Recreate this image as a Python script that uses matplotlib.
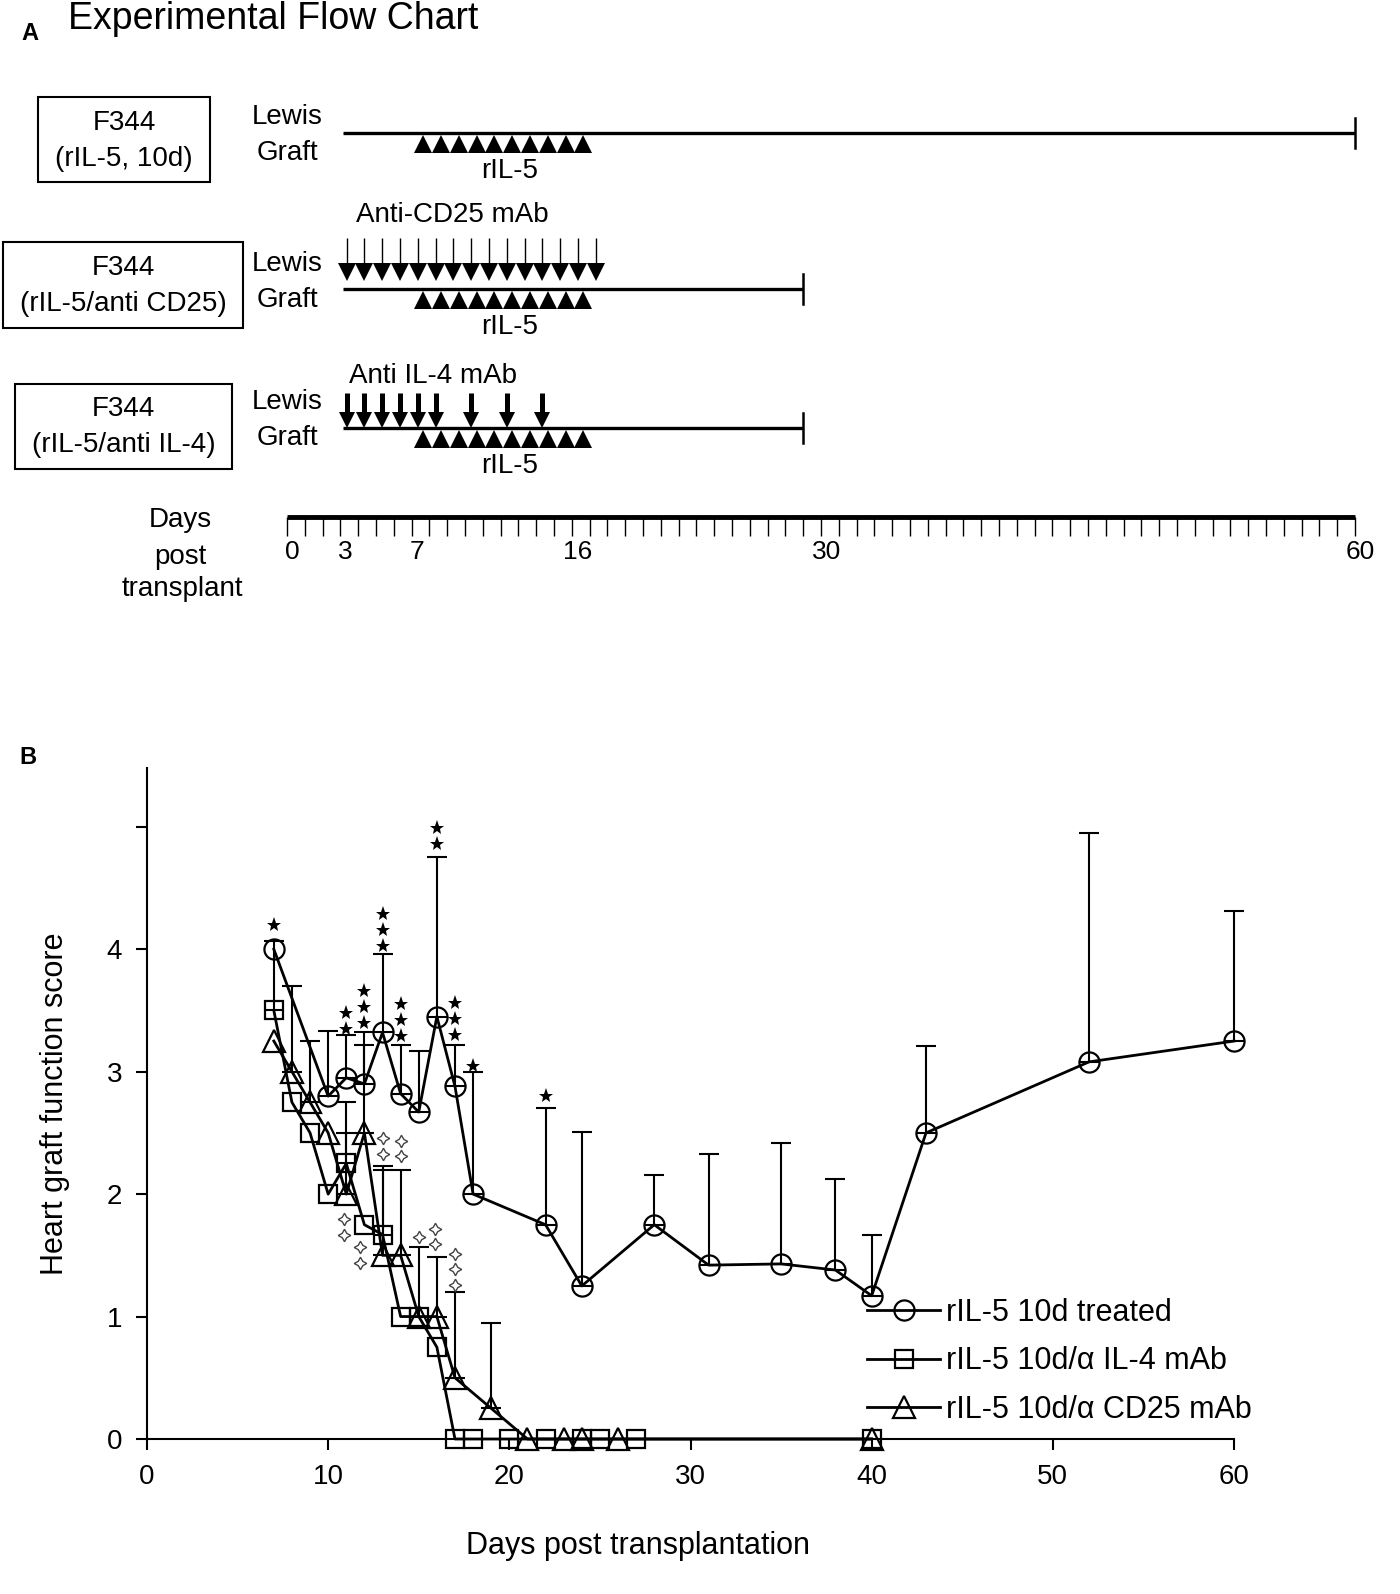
import numpy as np
import matplotlib
matplotlib.use("Agg")
import matplotlib.pyplot as plt
from matplotlib.patches import Rectangle

plt.rcParams['font.family'] = ['Liberation Sans', 'DejaVu Sans']

# ---- panel A: treatment schedule (days post transplant) ----
row_names = ["(rIL-5, 10d)", "(rIL-5/anti CD25)", "(rIL-5/anti IL-4)"]
graft_start = 3
graft_end = [60, 29, 29]
ril5_days = np.arange(7, 17)            # 10 daily doses
cd25_days = np.arange(3, 18)            # daily anti-CD25
il4_days = np.array([3, 4, 5, 6, 7, 8, 10, 12, 14])
axis_days = np.arange(0, 61)
axis_labels = [0, 3, 7, 16, 30, 60]

# ---- panel B: heart graft function score ----
days_c = [7, 10, 11, 12, 13, 14, 15, 16, 17, 18, 22, 24, 28, 31, 35, 38, 40, 43, 52, 60]
score_c = [4.0, 2.8, 2.95, 2.9, 3.32, 2.82, 2.67, 3.45, 2.88, 2.0, 1.75, 1.25, 1.75,
           1.42, 1.43, 1.38, 1.17, 2.5, 3.08, 3.25]
err_c = [0, 0.53, 0.35, 0.42, 0.64, 0.40, 0.50, 1.30, 0.34, 1.0, 0.95, 1.26, 0.41,
         0.91, 0.99, 0.74, 0.50, 0.71, 1.87, 1.06]

days_s = [7, 8, 9, 10, 11, 12, 13, 14, 15, 16, 17, 18, 20, 22, 24, 25, 27, 40]
score_s = [3.5, 2.75, 2.5, 2.0, 2.25, 1.75, 1.67, 1.0, 1.0, 0.75, 0, 0, 0, 0, 0, 0, 0, 0]
err_s = [0.57, 0, 0, 0, 0.5, 0, 0.56, 0, 0, 0, 0, 0, 0, 0, 0, 0, 0, 0]

days_t = [7, 8, 9, 10, 11, 12, 13, 14, 15, 16, 17, 19, 21, 23, 24, 26, 40]
score_t = [3.25, 3.0, 2.75, 2.5, 2.0, 2.5, 1.5, 1.5, 1.0, 1.0, 0.5, 0.25, 0, 0, 0, 0, 0]
err_t = [0, 0.7, 0.5, 0, 0.5, 0.72, 0.7, 0.7, 0.57, 0.49, 0.7, 0.7, 0, 0, 0, 0, 0]

# significance marks: day, lowest star level, number of stars
star_day = [7, 11, 12, 13, 14, 16, 17, 18, 22]
star_base = [4.2, 3.35, 3.4, 4.03, 3.29, 4.86, 3.3, 3.05, 2.8]
star_n = [1, 2, 3, 3, 3, 2, 3, 1, 1]
ostar_day = [10.9, 11.75, 13, 14, 15, 15.9, 17]
ostar_base = [1.67, 1.44, 2.33, 2.31, 1.65, 1.59, 1.26]
ostar_n = [2, 2, 2, 2, 1, 2, 3]

labels = ["rIL-5 10d treated", "rIL-5 10d/\u03b1 IL-4 mAb", "rIL-5 10d/\u03b1 CD25 mAb"]

W, H = 1400, 1594
fig = plt.figure(figsize=(W / 100, H / 100), dpi=100)

# ================= panel A =================
day0_px, px_per_day = 287, 17.8
def px2day(x):
    return (x - day0_px) / px_per_day

axA = fig.add_axes([0, 1 - 700 / H, 1, 700 / H])
axA.set_xlim(px2day(0), px2day(W))
axA.set_ylim(700, 0)
axA.axis('off')

fs = 20
axA.text(px2day(30), 33, "A", fontsize=17, fontweight='bold', ha='center', va='center')
axA.text(px2day(68), 19, "Experimental Flow Chart", fontsize=27, ha='left', va='center')

boxes = [(38, 97, 210, 182), (3, 242, 243, 328), (15, 384, 232, 469)]
row_y = [133, 289, 428]
lewis_y = [117, 264, 402]
for i, (x0, y0, x1, y1) in enumerate(boxes):
    axA.add_patch(Rectangle((px2day(x0), y0), (x1 - x0) / px_per_day, y1 - y0,
                            fill=False, lw=1.5, ec='black'))
    cx = px2day((x0 + x1) / 2)
    cy = (y0 + y1) / 2
    axA.text(cx, cy - 17, "F344", fontsize=fs, ha='center', va='center')
    axA.text(cx, cy + 19, row_names[i], fontsize=fs, ha='center', va='center')
    axA.text(px2day(287), lewis_y[i], "Lewis", fontsize=fs, ha='center', va='center')
    axA.text(px2day(287), lewis_y[i] + 36, "Graft", fontsize=fs, ha='center', va='center')

    y = row_y[i]
    axA.plot([graft_start + 0.15, graft_end[i]], [y, y], color='black', lw=2.4,
             solid_capstyle='butt')
    axA.plot([graft_end[i], graft_end[i]], [y - 15, y + 15], color='black', lw=1.8)
    axA.plot(ril5_days + 0.65, np.full(len(ril5_days), y + 11), ls='none',
             marker='^', ms=12.5, color='black', mew=0)
    axA.text(12.5, y + 38, "rIL-5", fontsize=fs, ha='center', va='center')

# anti-CD25: thin arrows
axA.vlines(cd25_days + 0.35, 238, 266, color='black', lw=1)
axA.plot(cd25_days + 0.35, np.full(len(cd25_days), 272), ls='none', marker='v',
         ms=13, color='black', mew=0)
axA.text(px2day(452), 215, "Anti-CD25 mAb", fontsize=fs, ha='center', va='center')

# anti-IL-4: bold arrows
axA.vlines(il4_days + 0.35, 393, 414, color='black', lw=3.6)
axA.plot(il4_days + 0.35, np.full(len(il4_days), 420), ls='none', marker='v',
         ms=11, color='black', mew=0)
axA.text(px2day(433), 376, "Anti IL-4 mAb", fontsize=fs, ha='center', va='center')

# days axis
axA.plot([axis_days[0], axis_days[-1]], [517, 517], color='black', lw=3.5,
         solid_capstyle='butt')
axA.vlines(axis_days, 517, 536, color='black', lw=1)
for d in axis_labels:
    axA.text(d + 0.3, 552, str(d), fontsize=19, ha='center', va='center')
axA.text(px2day(180), 520, "Days", fontsize=fs, ha='center', va='center')
axA.text(px2day(180), 557, "post", fontsize=fs, ha='center', va='center')
axA.text(px2day(182), 589, "transplant", fontsize=fs, ha='center', va='center')

# ================= panel B =================
ax = fig.add_axes([147 / W, 155 / H, 1087 / W, 671 / H])
fig.text(28 / W, 1 - 758 / H, "B", fontsize=17, fontweight='bold', ha='center', va='center')

series = [
    (days_c, score_c, err_c, 'o', 14.5),
    (days_s, score_s, err_s, 's', 13.5),
    (days_t, score_t, err_t, '^', 15.5),
]
handles = []
for (d, s, e, m, ms), lab in zip(series, labels):
    d, s, e = np.array(d), np.array(s), np.array(e)
    keep = e > 0
    ax.errorbar(d[keep], s[keep], yerr=[np.zeros(keep.sum()), e[keep]], fmt='none',
                ecolor='black', elinewidth=1.5, capsize=7, capthick=1.5, clip_on=False)
    ln, = ax.plot(d, s, color='black', lw=2, marker=m, ms=ms, mfc='none',
                  mec='black', mew=1.6, clip_on=False, label=lab)
    handles.append(ln)

for d, b, n in zip(star_day, star_base, star_n):
    ax.plot([d] * n, b + 0.13 * np.arange(n), ls='none', marker='*', ms=11,
            color='black', mew=0, clip_on=False)
for d, b, n in zip(ostar_day, ostar_base, ostar_n):
    ax.plot([d] * n, b + 0.125 * np.arange(n), ls='none', marker=(4, 1, 0), ms=9,
            mfc='white', mec='#444444', mew=1.0, clip_on=False)

ax.set_xlim(0, 60)
ax.set_ylim(0, 5.48)
ax.set_xticks(np.arange(0, 61, 10))
ax.set_yticks(np.arange(0, 6))
ax.set_yticklabels(['0', '1', '2', '3', '4', ''])
ax.tick_params(labelsize=20, width=1.5, length=8, direction='out', pad=10)
for sp in ['top', 'right']:
    ax.spines[sp].set_visible(False)
for sp in ['left', 'bottom']:
    ax.spines[sp].set_linewidth(1.5)

ax.set_xlabel("Days post transplantation", fontsize=22)
ax.xaxis.set_label_coords(0.452, -0.16)
ax.xaxis.label.set_verticalalignment('center')
ax.set_ylabel("Heart graft function score", fontsize=22)
ax.yaxis.set_label_coords(-0.085, 0.5)
ax.yaxis.label.set_verticalalignment('center')

ax.legend(handles=handles, loc='upper left', bbox_to_anchor=(867 / W, 1 - 1298 / H),
          bbox_transform=fig.transFigure, frameon=False, fontsize=22,
          handlelength=2.4, handletextpad=0.2, labelspacing=0.6,
          borderpad=0, borderaxespad=0)

fig.savefig("out.png", dpi=100)
